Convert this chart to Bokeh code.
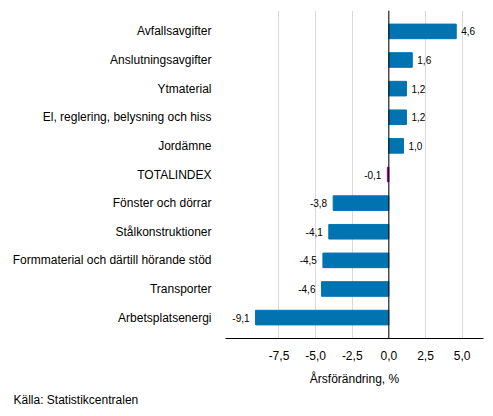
from bokeh.plotting import figure
from bokeh.models import (
    ColumnDataSource,
    FactorRange,
    Range1d,
    FixedTicker,
    CustomJSTickFormatter,
    Span,
    Title,
)
from bokeh.embed import file_html
from bokeh.resources import INLINE

# data, top to bottom as in the chart
categories = [
    "Avfallsavgifter",
    "Anslutningsavgifter",
    "Ytmaterial",
    "El, reglering, belysning och hiss",
    "Jordämne",
    "TOTALINDEX",
    "Fönster och dörrar",
    "Stålkonstruktioner",
    "Formmaterial och därtill hörande stöd",
    "Transporter",
    "Arbetsplatsenergi",
]
values = [4.6, 1.6, 1.2, 1.2, 1.0, -0.1, -3.8, -4.1, -4.5, -4.6, -9.1]
highlight = "TOTALINDEX"
x_ticks = [-7.5, -5.0, -2.5, 0.0, 2.5, 5.0]

blue = "#0073b0"
magenta = "#a3008c"
font = "Liberation Sans"

cats_bottom_up = categories[::-1]
vals_bottom_up = values[::-1]

source = ColumnDataSource(
    {
        "cat": cats_bottom_up,
        "val": vals_bottom_up,
        "color": [magenta if c == highlight else blue for c in cats_bottom_up],
        "label": [f"{v:.1f}".replace(".", ",") for v in vals_bottom_up],
        "align": ["left" if v >= 0 else "right" for v in vals_bottom_up],
        "xoff": [5 if v >= 0 else -6 for v in vals_bottom_up],
    }
)

p = figure(
    width=485,
    height=408,
    y_range=FactorRange(
        factors=cats_bottom_up, range_padding=0.23, range_padding_units="absolute"
    ),
    x_range=Range1d(-11.15, 6.46),
    output_backend="svg",
    toolbar_location=None,
    min_border_left=225,
    min_border_right=2,
    min_border_top=10,
    min_border_bottom=60,
)
p.outline_line_color = None

# bars
p.hbar(y="cat", left=0, right="val", height=0.51, color="color", source=source)

# value labels
p.text(
    x="val",
    y="cat",
    text="label",
    x_offset="xoff",
    text_align="align",
    text_baseline="middle",
    text_font_size="10px",
    text_font={"value": font},
    text_color="#000000",
    source=source,
)

# zero line
p.add_layout(Span(location=0, dimension="height", line_color="#000000", line_width=1))

# axes
p.xaxis.ticker = FixedTicker(ticks=x_ticks)
p.xaxis.formatter = CustomJSTickFormatter(
    code="return tick.toFixed(1).replace('.', ',');"
)
p.xaxis.axis_label = "Årsförändring, %"
p.xaxis.axis_label_text_font = font
p.xaxis.axis_label_text_font_size = "12px"
p.xaxis.axis_label_text_font_style = "normal"
p.xaxis.axis_label_text_color = "#000000"
p.xaxis.axis_label_standoff = 9
p.xaxis.major_label_text_font = font
p.xaxis.major_label_text_font_size = "12px"
p.xaxis.major_label_text_color = "#000000"
p.xaxis.major_label_standoff = 6
p.xaxis.major_tick_line_color = None
p.xaxis.minor_tick_line_color = None
p.xaxis.axis_line_color = "#000000"

p.yaxis.axis_line_color = None
p.yaxis.major_tick_line_color = None
p.yaxis.major_label_standoff = 8
p.yaxis.major_label_text_font = font
p.yaxis.major_label_text_font_size = "12px"
p.yaxis.major_label_text_color = "#000000"

p.xgrid.grid_line_color = "#d9d9d9"
p.ygrid.grid_line_color = None

# source note
p.add_layout(
    Title(
        text="Källa: Statistikcentralen",
        align="left",
        offset=-212,
        text_font=font,
        text_font_size="12px",
        text_font_style="normal",
        text_color="#000000",
        standoff=4,
    ),
    "below",
)

open("out.html", "w").write(file_html(p, INLINE))
